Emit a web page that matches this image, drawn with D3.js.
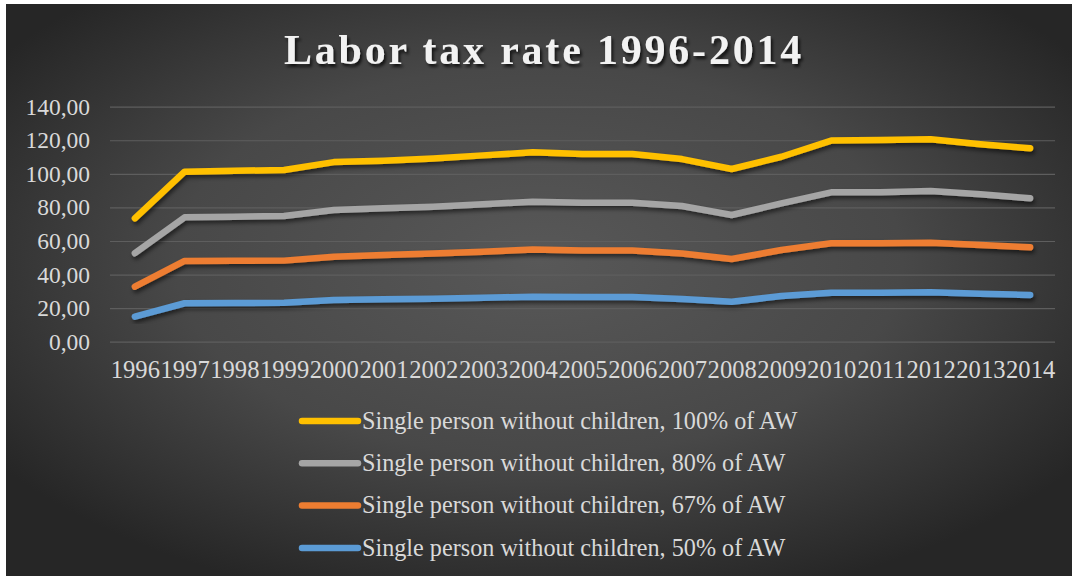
<!DOCTYPE html>
<html>
<head>
<meta charset="utf-8">
<script src="https://cdn.jsdelivr.net/npm/d3@7"></script>
<style>
  html, body { margin: 0; padding: 0; background: #ffffff; }
  svg { display: block; }
</style>
</head>
<body>
<svg id="chart" width="1072" height="576"></svg>
<script>
// Labor tax rate by year, four wage levels (share of average wage)
const years = ["1996","1997","1998","1999","2000","2001","2002","2003","2004","2005",
               "2006","2007","2008","2009","2010","2011","2012","2013","2014"];
const aw100 = [73.5, 101.3, 101.8, 102.3, 107.0, 107.8, 109.2, 111.0, 112.8, 111.8,
               111.8, 108.8, 102.9, 110.2, 119.8, 120.2, 120.6, 117.6, 115.2];
const aw80  = [52.7, 74.1, 74.5, 74.9, 78.5, 79.5, 80.4, 81.9, 83.4, 82.8,
               82.8, 80.8, 75.5, 82.4, 89.0, 89.0, 89.8, 87.8, 85.4];
const aw67  = [32.8, 48.1, 48.2, 48.3, 50.6, 51.6, 52.6, 53.6, 55.0, 54.4,
               54.4, 52.6, 49.3, 54.6, 58.6, 58.6, 59.0, 57.6, 56.2];
const aw50  = [14.9, 22.9, 23.0, 23.2, 24.8, 25.3, 25.6, 26.2, 26.8, 26.6,
               26.6, 25.4, 23.8, 27.2, 29.2, 29.2, 29.4, 28.6, 27.8];
const seriesNames = [
  "Single person without children, 100% of AW",
  "Single person without children, 80% of AW",
  "Single person without children, 67% of AW",
  "Single person without children, 50% of AW"
];
const seriesColors = ["#ffc000", "#a5a5a5", "#ed7d31", "#5b9bd5"];
const yTicks = [0, 20, 40, 60, 80, 100, 120, 140];
const titleText = "Labor tax rate 1996-2014";

const series = [aw100, aw80, aw67, aw50].map((vals, i) => ({
  name: seriesNames[i], color: seriesColors[i],
  points: vals.map((v, j) => ({ year: years[j], value: v }))
}));

const svg = d3.select("#chart");
const font = "'Liberation Serif', 'Times New Roman', serif";
const defs = svg.append("defs");

// dark radial backdrop
const bg = defs.append("radialGradient").attr("id", "bg")
  .attr("cx", "50%").attr("cy", "45%").attr("r", "62%");
bg.append("stop").attr("offset", "0%").attr("stop-color", "#585858");
bg.append("stop").attr("offset", "55%").attr("stop-color", "#484848");
bg.append("stop").attr("offset", "100%").attr("stop-color", "#262626");

const shadow = defs.append("filter").attr("id", "shadow")
  .attr("x", "-5%").attr("y", "-20%").attr("width", "110%").attr("height", "150%");
shadow.append("feDropShadow").attr("dx", 1.5).attr("dy", 3).attr("stdDeviation", 2)
  .attr("flood-color", "#000").attr("flood-opacity", 0.55);

const tshadow = defs.append("filter").attr("id", "tshadow")
  .attr("x", "-5%").attr("y", "-20%").attr("width", "110%").attr("height", "150%");
tshadow.append("feDropShadow").attr("dx", 2).attr("dy", 3).attr("stdDeviation", 1.6)
  .attr("flood-color", "#000").attr("flood-opacity", 0.7);

svg.append("rect").attr("x", 6).attr("y", 4).attr("width", 1066).attr("height", 572)
  .attr("fill", "url(#bg)");

// title
svg.append("text")
  .attr("x", 544).attr("y", 64)
  .attr("text-anchor", "middle")
  .attr("font-family", font).attr("font-weight", "bold")
  .attr("font-size", 42).attr("letter-spacing", 2.8)
  .attr("fill", "#f2f2f2").attr("filter", "url(#tshadow)")
  .text(titleText);

// scales
const x = d3.scalePoint().domain(years).range([110, 1055]).padding(0.5);
const y = d3.scaleLinear().domain([0, 140]).range([341.7, 106.7]);

// gridlines
const grid = svg.append("g").attr("transform", "translate(110,0)")
  .call(d3.axisLeft(y).tickValues(yTicks).tickSize(-945).tickFormat(""));
grid.select(".domain").remove();
grid.selectAll("line").attr("stroke", "#5e5e5e").attr("stroke-width", 1.2);

// y axis labels
const locale = d3.formatLocale({ decimal: ",", thousands: ".", grouping: [3], currency: ["", ""] });
const fmt = locale.format(".2f");
const yAxis = svg.append("g").attr("transform", "translate(110,0)")
  .call(d3.axisLeft(y).tickValues(yTicks).tickSize(0).tickPadding(20).tickFormat(fmt));
yAxis.select(".domain").remove();
yAxis.selectAll("text").attr("font-family", font).attr("font-size", 23.5)
  .attr("fill", "#d9d9d9");

// x axis labels
const xAxis = svg.append("g").attr("transform", "translate(0,341.7)")
  .call(d3.axisBottom(x).tickSize(0).tickPadding(19));
xAxis.select(".domain").remove();
xAxis.selectAll("text").attr("font-family", font).attr("font-size", 24.6)
  .attr("fill", "#d9d9d9");

// series lines
const line = d3.line().x(d => x(d.year)).y(d => y(d.value));
svg.append("g").selectAll("path").data(series.slice().reverse()).join("path")
  .attr("d", d => line(d.points))
  .attr("fill", "none")
  .attr("stroke", d => d.color)
  .attr("stroke-width", 6.5)
  .attr("stroke-linejoin", "round")
  .attr("stroke-linecap", "round")
  .attr("filter", "url(#shadow)");

// legend
const legend = svg.append("g").selectAll("g").data(series).join("g")
  .attr("transform", (d, i) => `translate(0,${421 + i * 42.3})`);
legend.append("line")
  .attr("x1", 302).attr("x2", 358).attr("y1", 0).attr("y2", 0)
  .attr("stroke", d => d.color).attr("stroke-width", 6.5)
  .attr("stroke-linecap", "round");
legend.append("text")
  .attr("x", 362).attr("y", 7.8)
  .attr("font-family", font).attr("font-size", 24.2)
  .attr("fill", "#d9d9d9")
  .text(d => d.name);
</script>
</body>
</html>
